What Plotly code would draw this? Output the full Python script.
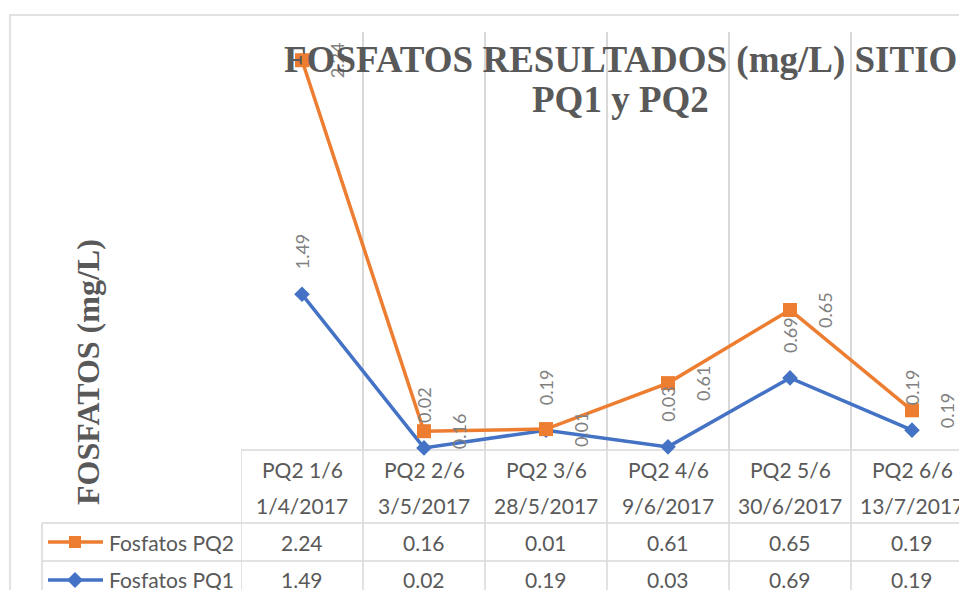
import numpy as np
import plotly.graph_objects as go

# data (Excel stacked line chart with data table)
codes = ["PQ2 1/6", "PQ2 2/6", "PQ2 3/6", "PQ2 4/6", "PQ2 5/6", "PQ2 6/6"]
dates = ["1/4/2017", "3/5/2017", "28/5/2017", "9/6/2017", "30/6/2017", "13/7/2017"]
pq2 = [2.24, 0.16, 0.01, 0.61, 0.65, 0.19]
pq1 = [1.49, 0.02, 0.19, 0.03, 0.69, 0.19]
series_names = ["Fosfatos PQ2", "Fosfatos PQ1"]

ORANGE = "#ED7D31"
BLUE = "#4472C4"
GRID = "#d9d9d9"
TEXT = "#595959"
LABEL = "#808080"

# the page body has an 8px margin, so the figure is sized to fill the rest
OFF = 8
W, H = 967 - OFF, 590 - OFF
PLOT_L, PLOT_T, PLOT_B = 241, 32, 450   # plot area in page pixels
PW = 967 - PLOT_L
PH = PLOT_B - PLOT_T

# Excel stacks the second series on top of the first
stacked = np.array(pq1) + np.array(pq2)


def px2x(px):
    return (px - PLOT_L) / PW


def py2y(py):
    return (PLOT_B - py) / PH


fig = go.Figure()
fig.add_trace(go.Scatter(
    x=codes, y=pq1, mode="lines+markers", name=series_names[1],
    line=dict(color=BLUE, width=3.5),
    marker=dict(symbol="diamond", size=12, color=BLUE),
    cliponaxis=False,
))
fig.add_trace(go.Scatter(
    x=codes, y=stacked, mode="lines+markers", name=series_names[0],
    line=dict(color=ORANGE, width=3.5),
    marker=dict(symbol="square", size=14, color=ORANGE),
    cliponaxis=False,
))

label_font = dict(family="Lato", size=18, color=LABEL)
ann = []
for c, v, y in zip(codes, pq1, pq1):
    ann.append(dict(x=c, y=y, xref="x", yref="y", text=f"{v:.2f}", showarrow=False,
                    textangle=-90, yshift=43, font=label_font))
for c, v, y in zip(codes, pq2, stacked):
    ann.append(dict(x=c, y=y, xref="x", yref="y", text=f"{v:.2f}", showarrow=False,
                    textangle=-90, xshift=35, font=label_font))

# data table texts
table_font = dict(family="Lato", size=21, color=TEXT)
for c, d, a, b in zip(codes, dates, pq2, pq1):
    for txt, py in [(c, 469), (d, 505), (f"{a:.2f}", 542), (f"{b:.2f}", 579)]:
        ann.append(dict(x=c, y=py2y(py), xref="x", yref="paper", text=txt, showarrow=False,
                        xanchor="center", yanchor="middle", font=table_font))
for name, py in zip(series_names, [542, 579]):
    ann.append(dict(x=px2x(107), y=py2y(py), xref="paper", yref="paper", text=name, showarrow=False,
                    xanchor="left", yanchor="middle", font=table_font))

# titles
title_font = dict(family="Liberation Serif", size=37, color=TEXT, weight="bold")
ann.append(dict(x=px2x(620), y=py2y(60), xref="paper", yref="paper", showarrow=False,
                xanchor="center", yanchor="middle",
                text="FOSFATOS RESULTADOS (mg/L) SITIO", font=title_font))
ann.append(dict(x=px2x(620), y=py2y(99), xref="paper", yref="paper", showarrow=False,
                xanchor="center", yanchor="middle", text="PQ1 y PQ2", font=title_font))
ann.append(dict(x=px2x(88), y=py2y(372), xref="paper", yref="paper", showarrow=False,
                xanchor="center", yanchor="middle",
                text="FOSFATOS (mg/L)", textangle=-90,
                font=dict(family="Liberation Serif", size=32, color=TEXT, weight="bold")))

shapes = []
# outer chart border
shapes.append(dict(type="rect", xref="paper", yref="paper", x0=px2x(10), x1=px2x(975),
                   y0=py2y(15), y1=py2y(600), line=dict(color=GRID, width=1.5), layer="below"))
# table grid
for x0, py in [(241, 450), (42, 523), (42, 561)]:
    shapes.append(dict(type="line", xref="paper", yref="paper", x0=px2x(x0), x1=1.02,
                       y0=py2y(py), y1=py2y(py), line=dict(color=GRID, width=1.5), layer="below"))
shapes.append(dict(type="line", xref="paper", yref="paper", x0=px2x(42), x1=px2x(42),
                   y0=py2y(523), y1=py2y(600), line=dict(color=GRID, width=1.5), layer="below"))
for i in range(len(codes) + 1):
    shapes.append(dict(type="line", xref="x", yref="paper", x0=i - 0.5, x1=i - 0.5,
                       y0=py2y(450), y1=py2y(600), line=dict(color=GRID, width=1.5), layer="below"))
# legend keys inside the table
for color, py, sym in [(ORANGE, 542, "square"), (BLUE, 580, "diamond")]:
    shapes.append(dict(type="line", xref="paper", yref="paper", x0=px2x(48), x1=px2x(103),
                       y0=py2y(py), y1=py2y(py), line=dict(color=color, width=3.5)))
    if sym == "square":
        shapes.append(dict(type="rect", xref="paper", yref="paper", x0=px2x(69), x1=px2x(81),
                           y0=py2y(py - 6), y1=py2y(py + 6), fillcolor=color, line=dict(width=0)))
    else:
        shapes.append(dict(type="path", xref="paper", yref="paper", fillcolor=color, line=dict(width=0),
                           path=f"M {px2x(75)},{py2y(py - 8)} L {px2x(83)},{py2y(py)} "
                                f"L {px2x(75)},{py2y(py + 8)} L {px2x(67)},{py2y(py)} Z"))

fig.update_layout(
    width=W, height=H,
    margin=dict(l=PLOT_L - OFF, r=0, t=PLOT_T - OFF, b=H - (PLOT_B - OFF)),
    paper_bgcolor="white", plot_bgcolor="white",
    showlegend=False,
    annotations=ann, shapes=shapes,
    xaxis=dict(type="category", range=[-0.5, -0.5 + PW / 122], tickson="boundaries",
               showgrid=True, gridcolor=GRID, gridwidth=1.5, showticklabels=False,
               ticks="", showline=False, zeroline=False),
    yaxis=dict(range=[0, 4.0], showgrid=False, showticklabels=False, zeroline=False,
               showline=False, ticks=""),
)

fig.write_html("out.html")
